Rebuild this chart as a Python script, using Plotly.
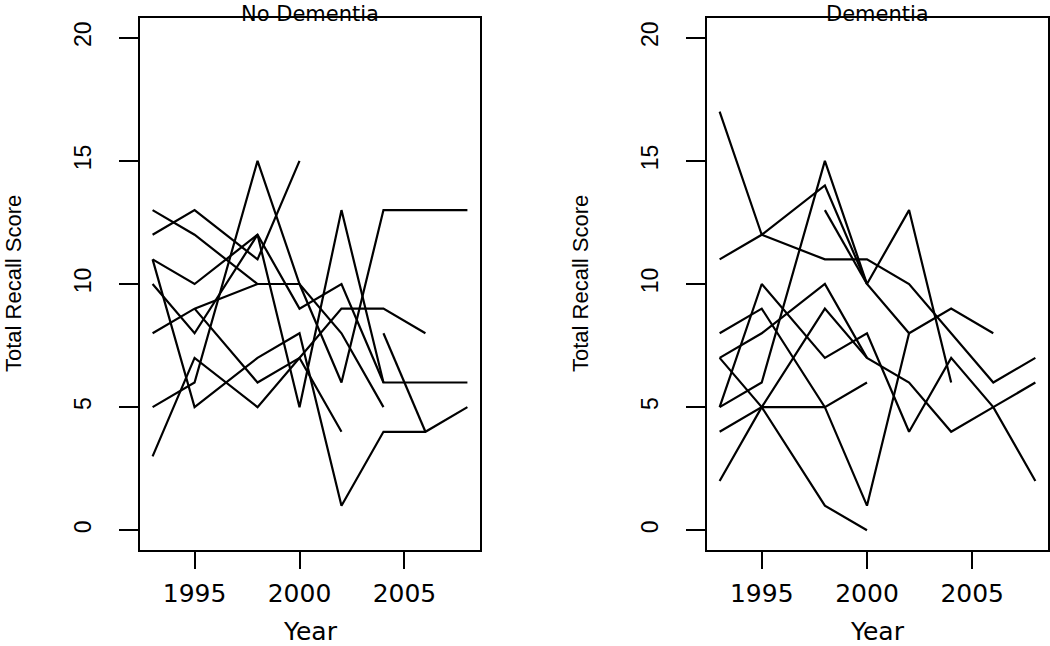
import plotly.graph_objects as go

years = [1993, 1995, 1998, 2000, 2002, 2004, 2006, 2008]

# No Dementia subjects (Total Recall Score by wave)
nd_1 = [13, 12, 10, 10, 8, 5, None, None]
nd_2 = [12, 13, 11, 15, None, None, None, None]
nd_3 = [11, 10, 12, 9, 10, 6, None, None]
nd_4 = [11, 5, 7, 8, 1, 4, 4, 5]
nd_5 = [10, 8, 12, 5, 13, 6, 6, 6]
nd_6 = [8, 9, 10, 10, None, None, None, None]
nd_7 = [5, 6, 15, 10, 6, 13, 13, 13]
nd_8 = [3, 7, 5, 7, 9, 9, 8, None]
nd_9 = [None, 9, 6, 7, 4, None, None, None]
nd_10 = [None, None, None, None, None, 8, 4, None]

# Dementia subjects
d_1 = [17, 12, 11, 11, 10, 8, 6, 7]
d_2 = [11, 12, 14, 10, 8, 9, 8, None]
d_3 = [None, None, 13, 10, None, None, None, None]
d_4 = [5, 6, 15, 10, 13, 6, None, None]
d_5 = [5, 10, 7, 8, 4, 7, 5, 2]
d_6 = [8, 9, 5, 1, 8, None, None, None]
d_7 = [4, 5, 5, 6, None, None, None, None]
d_8 = [2, 5, 9, 7, 6, 4, 5, 6]
d_9 = [7, 8, 10, 7, None, None, None, None]
d_10 = [7, 5, 1, 0, None, None, None, None]

panel_titles = ["No Dementia", "Dementia"]
x_ticks = [1995, 2000, 2005]
y_ticks = [0, 5, 10, 15, 20]
x_title = "Year"
y_title = "Total Recall Score"

groups = [
    [nd_1, nd_2, nd_3, nd_4, nd_5, nd_6, nd_7, nd_8, nd_9, nd_10],
    [d_1, d_2, d_3, d_4, d_5, d_6, d_7, d_8, d_9, d_10],
]

W, H = 1050, 646
fig = go.Figure()

axis_ids = [("x", "y"), ("x2", "y2")]
for (xa, ya), series in zip(axis_ids, groups):
    for s in series:
        fig.add_trace(go.Scatter(
            x=years, y=s, xaxis=xa, yaxis=ya, mode="lines",
            line=dict(color="black", width=2.2),
            connectgaps=False, showlegend=False, hoverinfo="skip"))

# panel geometry in pixels
panels = [(140, 480), (707, 1048)]
top_px, bot_px = 18, 550
ydom = [1 - bot_px / H, 1 - top_px / H]

hfont = dict(family="DejaVu Sans", size=25, color="black")
vfont = dict(family="Liberation Sans, Arial", size=23, color="black")

common_x = dict(range=[1992.4, 2008.6], tickvals=x_ticks, ticks="outside",
                ticklen=17, tickwidth=2, tickcolor="black",
                showline=True, linecolor="black", linewidth=2, mirror=True,
                showgrid=False, zeroline=False, tickfont=hfont,
                ticklabelstandoff=3)
common_y = dict(range=[-0.8, 20.8], tickvals=y_ticks, ticks="outside",
                ticklen=19, tickwidth=2, tickcolor="black",
                showline=True, linecolor="black", linewidth=2, mirror=True,
                showgrid=False, zeroline=False, tickfont=vfont,
                tickangle=-90, ticklabelstandoff=19, domain=ydom)

fig.update_layout(
    xaxis=dict(common_x, domain=[panels[0][0] / W, panels[0][1] / W], anchor="y"),
    yaxis=dict(common_y, anchor="x"),
    xaxis2=dict(common_x, domain=[panels[1][0] / W, panels[1][1] / W], anchor="y2"),
    yaxis2=dict(common_y, anchor="x2"),
)

annotations = []
for (l, r), title in zip(panels, panel_titles):
    cx = (l + r) / 2 / W
    annotations.append(dict(text=title, x=cx, y=1, xref="paper", yref="paper",
                            xanchor="center", yanchor="top", showarrow=False,
                            font=dict(family="DejaVu Sans", size=21, color="black")))
    annotations.append(dict(text=x_title, x=cx, y=0, yshift=-2, xref="paper", yref="paper",
                            xanchor="center", yanchor="bottom", showarrow=False,
                            font=dict(family="DejaVu Sans", size=25, color="black")))
    annotations.append(dict(text=y_title, x=(l - 127) / W, y=(ydom[0] + ydom[1]) / 2,
                            xref="paper", yref="paper", textangle=-90,
                            xanchor="center", yanchor="middle", showarrow=False,
                            font=dict(family="Liberation Sans, Arial", size=22, color="black")))

fig.update_layout(
    width=W, height=H,
    margin=dict(l=0, r=0, t=0, b=0),
    paper_bgcolor="white", plot_bgcolor="white",
    annotations=annotations,
    showlegend=False,
)

fig.write_html(
    "out.html",
    config={"displayModeBar": False},
    post_script="document.body.style.margin='0';document.body.style.padding='0';"
                "document.documentElement.style.overflow='hidden';",
)
